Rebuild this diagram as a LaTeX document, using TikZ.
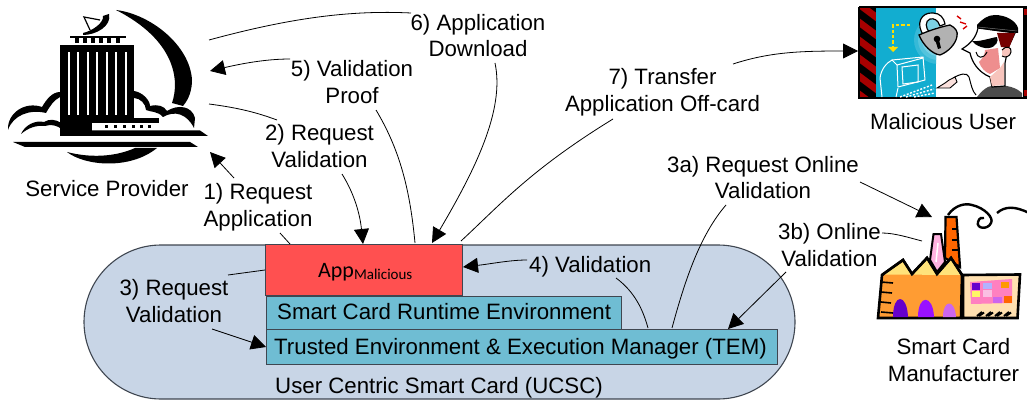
\documentclass[tikz,border=0pt]{standalone}
\usepackage{fontspec}
\setmainfont{Liberation Sans}
\newfontfamily\calfont{Carlito}
\usetikzlibrary{arrows.meta}
\definecolor{cardblue}{HTML}{C8D5E6}
\definecolor{apphred}{HTML}{FF5050}
\definecolor{layerblue}{HTML}{6FBDD3}
\definecolor{edgegray}{HTML}{3F4650}
\definecolor{scarlet}{HTML}{A80000}
\definecolor{cyanpanel}{HTML}{12ADD0}
\definecolor{factorange}{HTML}{FF9C33}
\definecolor{factyellow}{HTML}{FFE27A}
\definecolor{chimorange}{HTML}{FF6600}
\definecolor{chimpink}{HTML}{FFB3E0}
\definecolor{shedcream}{HTML}{FFE0B0}
\definecolor{shedpink}{HTML}{FF80C0}
\definecolor{skin}{HTML}{F7C4BC}
\definecolor{cheek}{HTML}{EE8E8E}
\definecolor{arcA}{HTML}{6600CC}
\definecolor{arcB}{HTML}{9911FF}
\definecolor{arcC}{HTML}{CC66EE}
\tikzset{
 lbl/.style={align=center,inner sep=0pt,font=\fontsize{22.25}{26.6}\selectfont},
 conn/.style={line width=0.8pt,black},
 arr/.style={conn,-{Triangle[length=15pt,width=15pt]}},
 layer/.style={draw=edgegray,line width=1.2pt,fill=layerblue},
 ink/.style={fill=black,draw=none},
}
\begin{document}
\begin{tikzpicture}[x=1pt,y=-1pt]
\useasboundingbox (0,0) rectangle (1027,406);
% smart card
\draw[fill=cardblue,draw=edgegray,line width=1.1pt,rounded corners=77pt] (84,245) rectangle (795,399);
\node[draw=edgegray,line width=1.2pt,fill=apphred,minimum width=197pt,minimum height=51pt,inner sep=0pt,anchor=north west] (app) at (265,244) {};
\node[layer,minimum width=355pt,minimum height=33pt,inner sep=0pt,anchor=north west] (sre) at (266,296) {};
\node[layer,minimum width=511pt,minimum height=35pt,inner sep=0pt,anchor=north west] (tem) at (266,329) {};
\node[anchor=base west,inner sep=0pt] (applbl) at (318,277) {\fontsize{22}{24}\calfont App\fontsize{15}{16}\selectfont\raisebox{-2.5pt}{Malicious}};
\node[lbl,anchor=base west] (srelbl) at (277,319.5) {Smart Card Runtime Environment};
\node[lbl,anchor=base west] (temlbl) at (274,354) {Trusted Environment \& Execution Manager (TEM)};
\node[lbl,anchor=base west] (ucsc) at (275,393) {User Centric Smart Card (UCSC)};
% labels
\node[lbl] (l1) at (258,207) {1) Request\\Application};
\node[lbl] (l2) at (319.5,146) {2) Request\\Validation};
\node[lbl] (l3) at (174,301) {3) Request\\Validation};
\node[lbl] (l3a) at (763,177.5) {3a) Request Online\\Validation};
\node[lbl] (l3b) at (829.5,245) {3b) Online\\Validation};
\node[lbl,anchor=base west] (l4) at (529,272) {4) Validation};
\node[lbl] (l5) at (352,82) {5) Validation\\Proof};
\node[lbl] (l6) at (478,35.5) {6) Application\\Download};
\node[lbl] (l7) at (662.5,92) {7) Transfer\\Application Off-card};
\node[lbl] (spl) at (107,189) {Service Provider};
\node[lbl] (mul) at (943,122) {Malicious User};
\node[lbl] (scm) at (953.5,360) {Smart Card\\Manufacturer};
% free ends
\coordinate (sp6) at (209,40);
\coordinate (sp5) at (210,71);
\coordinate (sp2) at (209,104);
\coordinate (sp1) at (210,152);
\coordinate (mu) at (858,51);
\coordinate (fa) at (932,217);
\coordinate (fb) at (922,241);
% connectors
\draw[conn] (sp6) .. controls (290,18) and (350,10) .. (411,13);
\draw[arr] (290,59) .. controls (265,59) and (240,64) .. (sp5);
\draw[conn] (sp2) .. controls (240,108) and (258,113) .. (277,120);
\draw[arr] (234,178) -- (sp1);
\draw[conn] (280,233) -- (290,244);
\draw[arr] (342,174) .. controls (355,195) and (360,215) .. (363,244);
\draw[conn] (376,110) .. controls (400,150) and (410,190) .. (415,243);
\draw[arr] (495,63) .. controls (505,110) and (475,170) .. (432,243);
\draw[conn] (461,241) .. controls (500,205) and (530,170) .. (613,119);
\draw[arr] (733,64) .. controls (770,52) and (800,51) .. (mu);
\draw[conn] (228,275) -- (265,270);
\draw[arr] (212,329) -- (266,347);
\draw[arr] (527,260) .. controls (510,260) and (490,264) .. (463,267);
\draw[conn] (616,278) .. controls (635,292) and (643,310) .. (648,328);
\draw[conn] (726,205) .. controls (700,235) and (685,280) .. (672,328);
\draw[arr] (786,272) -- (728,329);
\draw[arr] (860,182) -- (fa);
\draw[conn] (882,233) .. controls (895,233) and (910,238) .. (fb);
% ---- service provider clipart
\path[ink] (116,10) .. controls (150,14) and (190,45) .. (192,80) .. controls (192,90) and (189,99) .. (183,106) -- (172,103)
  .. controls (180,80) and (175,40) .. (116,10) -- cycle;
\path[ink] (67,152) .. controls (85,166) and (130,170) .. (157,148) -- (135,148) .. controls (115,157) and (90,158) .. (67,152) -- cycle;
\path[ink] (60,45) rectangle (134,122);
\path[ink] (60,122) rectangle (92,136);
\path[ink] (92,118) rectangle (159,123);
\foreach \xx in {69,78,88,97,107,116,126}{\fill[white] (\xx-1.3,52) rectangle (\xx+1.3,115);}
\fill[white] (92,123) rectangle (158,130);
\foreach \xx in {106,115,124,133,141,149}{\path[ink] (\xx-1.5,125) rectangle (\xx+1.5,128.5);}
\path[ink] (70,36) rectangle (126,38);
\foreach \xx in {77,85,93,101,109,118}{\path[ink] (\xx-2,38) rectangle (\xx+2,43);}
\path[ink] (73,130.5) -- (200,130.5) -- (208,136) -- (73,136) -- cycle;
\path[ink] (13,142) -- (190,142) -- (198,147) -- (25,147) -- cycle;
\path[ink] (83,35) .. controls (96,35) and (112,26) .. (109,14) -- (103,16) .. controls (104,23) and (92,31) .. (83,33) -- cycle;
\draw[line width=1.2pt] (100,20) -- (84,17) -- (90,30);
% clouds
\path[ink] (8,130) .. controls (7,113) and (25,101) .. (42,107) .. controls (46,100) and (52,92) .. (60,92) -- (60,97) .. controls (54,100) and (50,106) .. (46,113)
 .. controls (30,109) and (13,115) .. (8,130) -- cycle;
\path[ink] (21,134) .. controls (25,125) and (35,120) .. (44,122) .. controls (55,115) and (68,126) .. (73,136) -- (69,136) .. controls (62,128) and (55,123) .. (45,126) .. controls (36,125) and (28,128) .. (21,134) -- cycle;
\path[ink] (134,91) .. controls (142,92) and (150,100) .. (150,106) .. controls (158,104) and (164,106) .. (167,111) .. controls (178,104) and (192,106) .. (195,118) -- (194,128) .. controls (187,114) and (175,110) .. (163,117) .. controls (158,111) and (150,112) .. (146,110) .. controls (146,104) and (140,98) .. (134,98) -- cycle;
% ---- malicious user clipart
\fill[white] (859,7) rectangle (1023,98);
\begin{scope}
\clip (860,8) rectangle (876,97);
\fill[scarlet] (860,8) rectangle (876,97);
\foreach \yy in {-10,8,26,44,62,80,98}{\fill[black] (858,\yy) -- (878,\yy+15) -- (878,\yy+24) -- (858,\yy+9) -- cycle;}
\end{scope}
\fill[cyanpanel] (876,8) rectangle (936,97);
\begin{scope}
\clip (876,8) rectangle (936,97);
\foreach \rr/\mixx in {24/15,20/28,16/42,12/55}{\fill[cyanpanel!\the\numexpr100-\mixx\relax!white] (938,40) circle (\rr pt);}
\end{scope}
\fill[black] (1023,7) rectangle (1027,98);
\fill[scarlet] (1024,9) rectangle (1027,15);
\fill[scarlet] (1024,90) rectangle (1027,96);
\draw[line width=2pt] (859,7) -- (1027,7) (859,7) -- (859,98) -- (1027,98);
% computer
\draw[white,line width=1pt,line join=round] (882,97) -- (880,78) .. controls (881,70) and (886,63) .. (892,60) -- (923,57) -- (925,80) -- (898,87) -- (897,65) -- (923,58);
\draw[white,line width=1pt] (892,60) -- (897,65);
\draw[white,line width=1pt] (902,67) -- (918,65) -- (918,82) -- (903,84) -- cycle;
\draw[white,line width=1.4pt,dash pattern=on 2pt off 1.6pt] (900,97) -- (932,85) (906,97) -- (934,89) (914,97) -- (935,93);
\draw[white,line width=1pt] (898,88) -- (896,97);
% arrow
\draw[yellow!80!orange,line width=2.6pt,dash pattern=on 3.4pt off 2pt] (910,25) -- (893,25) -- (893,47);
\path[fill=yellow!80!orange] (888,47) -- (898,47) -- (893,52) -- cycle;
% padlock
\path[fill=cyanpanel!55!white] (920,30) .. controls (917,18) and (925,13) .. (934,14) .. controls (940,14) and (944,18) .. (944,24) -- (932,30) -- cycle;
\draw[line width=1.2pt,fill=white] (924,36) .. controls (915,24) and (921,12) .. (933,13) .. controls (940,13) and (944,18) .. (945,24) -- (940,26) .. controls (938,20) and (934,18) .. (930,19) .. controls (925,21) and (925,28) .. (930,33) -- cycle;
\path[draw=black,line width=1.3pt,fill=black!30] (919,35) .. controls (928,31) and (940,27) .. (950,25) .. controls (956,28) and (958,32) .. (957,36) .. controls (956,44) and (948,52) .. (940,55) .. controls (932,54) and (923,45) .. (919,35) -- cycle;
\path[ink] (937,39) circle (3.3pt);
\path[ink] (935.5,41) -- (939,40) -- (941,48) -- (938,49) -- cycle;
\draw[red!85!black,line width=1.4pt] (957,16) -- (961,19) (960,22) -- (966,24) (963,29) -- (967,26);
% man
\path[fill=black!70] (977,97) .. controls (981,92) and (984,89) .. (988,87) .. controls (996,84) and (1010,85) .. (1018,90) -- (1022,93) -- (1022,97) -- cycle;
\path[draw=black,line width=1.2pt,fill=white] (978,28) .. controls (976,38) and (970,44) .. (962,49) -- (970,53) .. controls (972,62) and (978,72) .. (990,77) -- (992,87) -- (1005,86) -- (1005,63) -- (1008,48) -- (1015,33) -- cycle;
\path[fill=cheek] (985,50) -- (998,48) -- (1000,68) -- (990,74) .. controls (985,72) and (981,68) .. (979,62) .. controls (983,58) and (985,54) .. (985,50) -- cycle;
\path[fill=skin] (990,77) -- (992,86) -- (1004,85) -- (1004,62) -- (1000,68) -- cycle;
\path[fill=scarlet!70!black] (997,33) -- (1015,33) -- (1009,48) -- (1001,47) -- cycle;
\path[ink] (977,25) .. controls (982,19) and (988,15) .. (995,15) .. controls (1006,15) and (1016,21) .. (1018,28) -- (1018,33) -- (997,31) -- (977,28) -- cycle;
\draw[black!55,line width=0.5pt] (978,27) -- (1017,31);
\path[ink] (972,41) .. controls (980,42) and (990,38) .. (997,37) .. controls (999,41) and (996,47) .. (989,48) .. controls (984,49) and (978,46) .. (975,44) -- cycle;
\path[draw=black,line width=1pt,fill=skin] (1002,50) .. controls (1006,45) and (1012,47) .. (1011,52) .. controls (1010,57) and (1005,58) .. (1002,56);
\draw[line width=1pt] (976,52) .. controls (977,58) and (983,60) .. (987,52);
% hand
\draw[line width=1pt] (953,78) .. controls (960,74) and (967,72) .. (969,77) .. controls (971,84) and (972,91) .. (976,95);
\path[draw=black,line width=0.9pt,fill=skin!50!white] (937,88) -- (945,83) -- (949,80) -- (955,77) -- (957,82) -- (950,88) -- (943,88) -- cycle;
% ---- factory clipart
\path[draw=black,line width=2.2pt,fill=chimorange] (945.5,217) -- (956.5,217) -- (960,267) -- (945,258) -- cycle;
\draw[line width=1.5pt] (952,229) -- (957,229) (952,240) -- (958,240) (952,250) -- (958.5,250);
\path[draw=black,line width=2pt,fill=chimpink] (933.5,234) -- (941,234) -- (945,262) -- (937,272) -- (930,260) -- cycle;
\draw[white,line width=1.5pt] (938,243) -- (936,262);
\path[draw=black,line width=2.6pt,fill=factorange,line join=miter] (882,275) -- (903,260) -- (912,274) -- (927,258) -- (937,274) -- (951,258) -- (962,275) -- (961,318) -- (878,318) -- cycle;
\path[fill=factyellow] (884,274.5) -- (903,262) -- (912,276) -- (927,260) -- (937,276) -- (951,260) -- (960.5,275) -- cycle;
\draw[line width=2.6pt,line join=miter] (882,275) -- (903,260) -- (912,274) -- (927,258) -- (937,274) -- (951,258) -- (962,275);
\foreach \yy/\xx in {282/893,292/892,302/891,312/893}{\draw[line width=1.6pt] (881,\yy) -- (\xx,\yy+1);}
\path[fill=arcA] (893,317) .. controls (893,293) and (907,293) .. (908,317) -- cycle;
\path[fill=arcB] (918,317) .. controls (918,294) and (933,294) .. (934,317) -- cycle;
\path[fill=arcC] (943,317) .. controls (943,299) and (955,299) .. (956,317) -- cycle;
\path[draw=black,line width=2.6pt,fill=shedcream] (963,275) -- (1020,274.5) -- (1017.5,318) -- (963,318) -- cycle;
\path[fill=shedpink] (970,282) -- (1012,279) -- (1012,303) -- (971,304) -- cycle;
\fill[arcA] (972,283) rectangle (980,290);
\fill[blue!30!white] (983,283) rectangle (992,289);
\fill[orange!80!yellow] (1001,282) rectangle (1009,288);
\fill[yellow!60] (972,291) rectangle (980,297);
\fill[magenta!25!white] (983,290) rectangle (992,297);
\fill[arcC] (993,297) rectangle (1002,303);
\fill[chimorange] (1004,296) rectangle (1012,303);
\foreach \xx in {977,986,995,1004}{\draw[line width=2pt] (\xx,316) -- (\xx+5,312) (\xx+2,316) -- (\xx+7,312.5);}
\draw[line width=2.4pt] (948,215) .. controls (955,205) and (965,203) .. (972,205) .. controls (985,208) and (994,218) .. (991,223) .. controls (988,230) and (976,229) .. (978,222) .. controls (979,218) and (982,217) .. (984,218);
\draw[line width=2.4pt] (997,213) .. controls (1005,206) and (1015,206) .. (1029,213);
\end{tikzpicture}
\end{document}
